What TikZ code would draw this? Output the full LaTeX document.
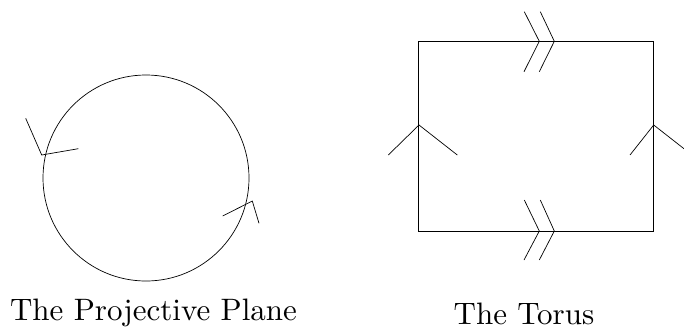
\documentclass[tikz,border=0pt]{standalone}
\usepackage{fontspec}
\newfontfamily\lmten{lmroman10-regular.otf}
\begin{document}
\begin{tikzpicture}[x=1pt,y=-1pt,line width=0.7pt,
  lbl/.style={anchor=base,inner sep=0pt,font=\lmten\fontsize{31}{37}\selectfont}]
\useasboundingbox (0,0) rectangle (684,327);
\clip (0,0) rectangle (684,327);
% projective plane
\draw (146,178) circle[radius=103];
\draw (25.7,118.3) -- (41.7,155) -- (78.3,148.7);
\draw (222.7,216) -- (252.3,201) -- (259,223.3);
\node[lbl] (pp) at (153.5,320.7) {The Projective Plane};
% torus
\draw (418.3,41.3) rectangle (653.7,231);
\draw (524.3,11.7) -- (539.3,41.3) -- (524,71.7);
\draw (540.3,11.7) -- (554.3,41.3) -- (539.3,71.7);
\draw (524.3,200) -- (539.3,231) -- (524,260);
\draw (540.3,200) -- (554.3,231) -- (539.3,260);
\draw (388.3,155) -- (419,125) -- (457.3,155);
\draw (630,155) -- (653.7,125) -- (692,155);
\node[lbl] (to) at (524,324) {The Torus};
\end{tikzpicture}
\end{document}
